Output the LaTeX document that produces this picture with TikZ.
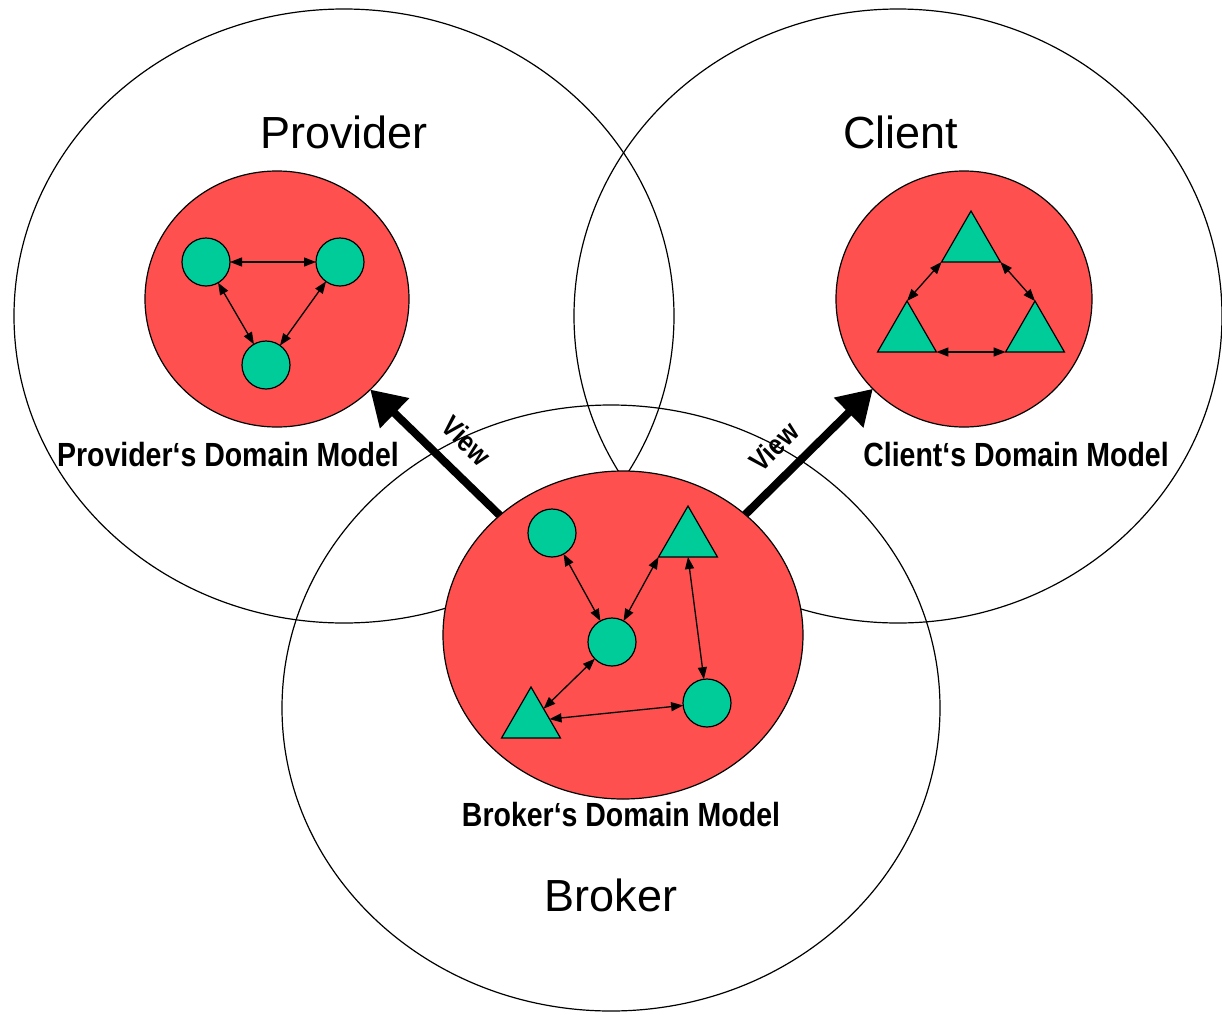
\documentclass[tikz,border=0pt]{standalone}
\usepackage{fontspec}
\setmainfont{Liberation Sans}
\newfontfamily\modelfont[FakeStretch=0.85]{Liberation Sans}
\usetikzlibrary{shapes.geometric,arrows.meta}
\definecolor{modelred}{RGB}{255,80,80}
\definecolor{itemgreen}{RGB}{0,204,153}

\begin{document}
\begin{tikzpicture}[x=1bp,y=1bp,
	roleline/.style={black,line width=1.2bp},
	model/.style={ellipse,draw=black,line width=1.2bp,fill=modelred},
	item/.style={circle,draw=black,line width=1.2bp,fill=itemgreen,minimum size=48bp},
	tri/.style={regular polygon,regular polygon sides=3,draw=black,line width=1.2bp,fill=itemgreen,minimum size=68bp},
	link/.style={{Triangle[length=12bp,width=9bp]}-{Triangle[length=12bp,width=9bp]},line width=1.3bp},
	view/.style={-{Triangle[length=34bp,width=40bp]},line width=8bp},
	rolename/.style={font=\fontsize{45bp}{54bp}\selectfont},
	modelname/.style={font=\modelfont\bfseries\fontsize{33.5bp}{40bp}\selectfont},
	viewname/.style={font=\modelfont\bfseries\fontsize{29bp}{34bp}\selectfont}]
	\tikzstyle{every node}+=[inner sep=0pt, outer sep=0pt]
	\useasboundingbox (0,0) rectangle (1222,-1015);
	% the three roles
	\draw [roleline] (344,-316) ellipse [x radius=330, y radius=307];
	\draw [roleline] (898,-316) ellipse [x radius=324, y radius=307];
	\draw [roleline] (611,-708) ellipse [x radius=329, y radius=303];
	\node [rolename] (provider) at (344,-132) {Provider};
	\node [rolename] (client) at (901,-132) {Client};
	\node [rolename] (broker) at (611,-895) {Broker};
	% provider's domain model
	\node [model, minimum width=264bp, minimum height=256bp] (pdm) at (277,-299) {};
	\node [item] (p1) at (206,-262) {};
	\node [item] (p2) at (340,-262) {};
	\node [item] (p3) at (266,-365) {};
	\draw [link] (p1) -- (p2);
	\draw [link] (p1) -- (p3);
	\draw [link] (p2) -- (p3);
	\node [modelname] (pdmname) at (228,-455) {Provider‘s Domain Model};
	% client's domain model
	\node [model, minimum size=256bp] (cdm) at (964,-299) {};
	\node [tri] (c1) at (971,-245) {};
	\node [tri] (c2) at (907,-335) {};
	\node [tri] (c3) at (1035,-335) {};
	\draw [link] (c1.corner 2) -- (c2.corner 1);
	\draw [link] (c1.corner 3) -- (c3.corner 1);
	\draw [link] (c2.corner 3) -- (c3.corner 2);
	\node [modelname] (cdmname) at (1016,-455) {Client‘s Domain Model};
	% broker's domain model
	\node [model, minimum width=360bp, minimum height=328bp] (bdm) at (623,-635) {};
	\node [item] (b1) at (552,-533) {};
	\node [tri] (b2) at (688,-540) {};
	\node [item] (b3) at (612,-642) {};
	\node [tri] (b4) at (531,-721) {};
	\node [item] (b5) at (707,-703) {};
	\draw [link] (b1) -- (b3);
	\draw [link] (b2.corner 2) -- (b3);
	\draw [link] (b2.south) -- (b5);
	\draw [link] (b3) -- (b4);
	\draw [link] (b4) -- (b5);
	\node [modelname] (bdmname) at (621,-815) {Broker‘s Domain Model};
	% views
	\draw [view] (bdm) -- (pdm) node [viewname, sloped, pos=0.42, above=20bp] {View};
	\draw [view] (bdm) -- (cdm) node [viewname, sloped, pos=0.38, above=18bp] {View};
\end{tikzpicture}
\end{document}
